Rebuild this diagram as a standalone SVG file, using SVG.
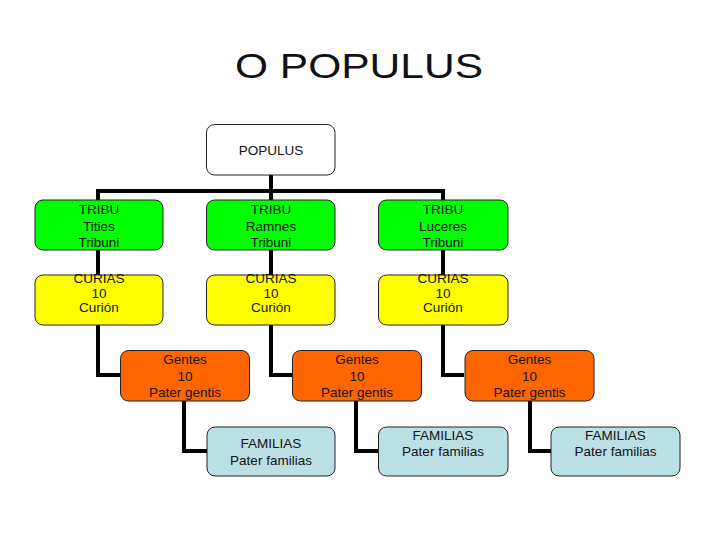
<svg xmlns="http://www.w3.org/2000/svg" width="720" height="540" viewBox="0 0 720 540">
<style>
  text { font-family: "Liberation Sans", Arial, sans-serif; fill: #111; text-anchor: middle; }
  .t { font-size: 13.5px; }
  .box { stroke: #222; stroke-width: 1; }
  .w { fill: #ffffff; }
  .g { fill: #00ff00; }
  .y { fill: #ffff00; }
  .o { fill: #ff6600; }
  .b { fill: #bbe0e3; }
  .c { fill: none; stroke: #000; stroke-width: 4; stroke-linejoin: miter; }
</style>
<rect width="720" height="540" fill="#ffffff"/>
<text x="359" y="77.5" font-size="35" textLength="248" lengthAdjust="spacingAndGlyphs">O POPULUS</text>
<g id="connectors">
  <polyline class="c" points="271,175 271,191"/>
  <polyline class="c" points="98,200 98,191 443,191 443,200"/>
  <polyline class="c" points="271,191 271,200"/>
  <polyline class="c" points="98,250 98,275"/>
  <polyline class="c" points="271,250 271,275"/>
  <polyline class="c" points="443,250 443,275"/>
  <polyline class="c" points="98,325 98,375 120,375"/>
  <polyline class="c" points="271,325 271,375 292,375"/>
  <polyline class="c" points="443,325 443,375 464,375"/>
  <polyline class="c" points="184,401 184,451 207,451"/>
  <polyline class="c" points="356,401 356,451 378,451"/>
  <polyline class="c" points="530,401 530,451 551,451"/>
</g>
<g id="populus">
  <rect class="box w" x="206.5" y="124.5" width="128.5" height="50.5" rx="8"/>
  <text class="t" x="271" y="155">POPULUS</text>
</g>
<g id="tribu-tities">
  <rect class="box g" x="35" y="200" width="128" height="50" rx="8"/>
  <text class="t" x="99" y="214">TRIBU</text>
  <text class="t" x="99" y="231">Tities</text>
  <text class="t" x="99" y="247">Tribuni</text>
</g>
<g id="tribu-ramnes">
  <rect class="box g" x="206.5" y="200" width="128.5" height="50" rx="8"/>
  <text class="t" x="271" y="214">TRIBU</text>
  <text class="t" x="271" y="231">Ramnes</text>
  <text class="t" x="271" y="247">Tribuni</text>
</g>
<g id="tribu-luceres">
  <rect class="box g" x="378.5" y="200" width="129.5" height="50" rx="8"/>
  <text class="t" x="443" y="214">TRIBU</text>
  <text class="t" x="443" y="231">Luceres</text>
  <text class="t" x="443" y="247">Tribuni</text>
</g>
<g id="curias-1">
  <rect class="box y" x="35" y="275" width="128" height="50" rx="8"/>
  <text class="t" x="99" y="282.5">CURIAS</text>
  <text class="t" x="99" y="297.5">10</text>
  <text class="t" x="99" y="311.5">Curión</text>
</g>
<g id="curias-2">
  <rect class="box y" x="206.5" y="275" width="128.5" height="50" rx="8"/>
  <text class="t" x="271" y="282.5">CURIAS</text>
  <text class="t" x="271" y="297.5">10</text>
  <text class="t" x="271" y="311.5">Curión</text>
</g>
<g id="curias-3">
  <rect class="box y" x="378.5" y="275" width="129.5" height="50" rx="8"/>
  <text class="t" x="443" y="282.5">CURIAS</text>
  <text class="t" x="443" y="297.5">10</text>
  <text class="t" x="443" y="311.5">Curión</text>
</g>
<g id="gentes-1">
  <rect class="box o" x="120.5" y="350.5" width="129" height="50.5" rx="8"/>
  <text class="t" x="185" y="363.5">Gentes</text>
  <text class="t" x="185" y="380.5">10</text>
  <text class="t" x="185" y="397">Pater gentis</text>
</g>
<g id="gentes-2">
  <rect class="box o" x="292.5" y="350.5" width="129" height="50.5" rx="8"/>
  <text class="t" x="357" y="363.5">Gentes</text>
  <text class="t" x="357" y="380.5">10</text>
  <text class="t" x="357" y="397">Pater gentis</text>
</g>
<g id="gentes-3">
  <rect class="box o" x="465" y="350.5" width="129" height="50.5" rx="8"/>
  <text class="t" x="529.5" y="363.5">Gentes</text>
  <text class="t" x="529.5" y="380.5">10</text>
  <text class="t" x="529.5" y="397">Pater gentis</text>
</g>
<g id="familias-1">
  <rect class="box b" x="207" y="427" width="128" height="49" rx="8"/>
  <text class="t" x="271" y="447.5">FAMILIAS</text>
  <text class="t" x="271" y="464.5">Pater familias</text>
</g>
<g id="familias-2">
  <rect class="box b" x="378.5" y="427" width="129.5" height="49" rx="8"/>
  <text class="t" x="443" y="439.5">FAMILIAS</text>
  <text class="t" x="443" y="455.5">Pater familias</text>
</g>
<g id="familias-3">
  <rect class="box b" x="551" y="427" width="129" height="49" rx="8"/>
  <text class="t" x="615.5" y="439.5">FAMILIAS</text>
  <text class="t" x="615.5" y="455.5">Pater familias</text>
</g>
</svg>
